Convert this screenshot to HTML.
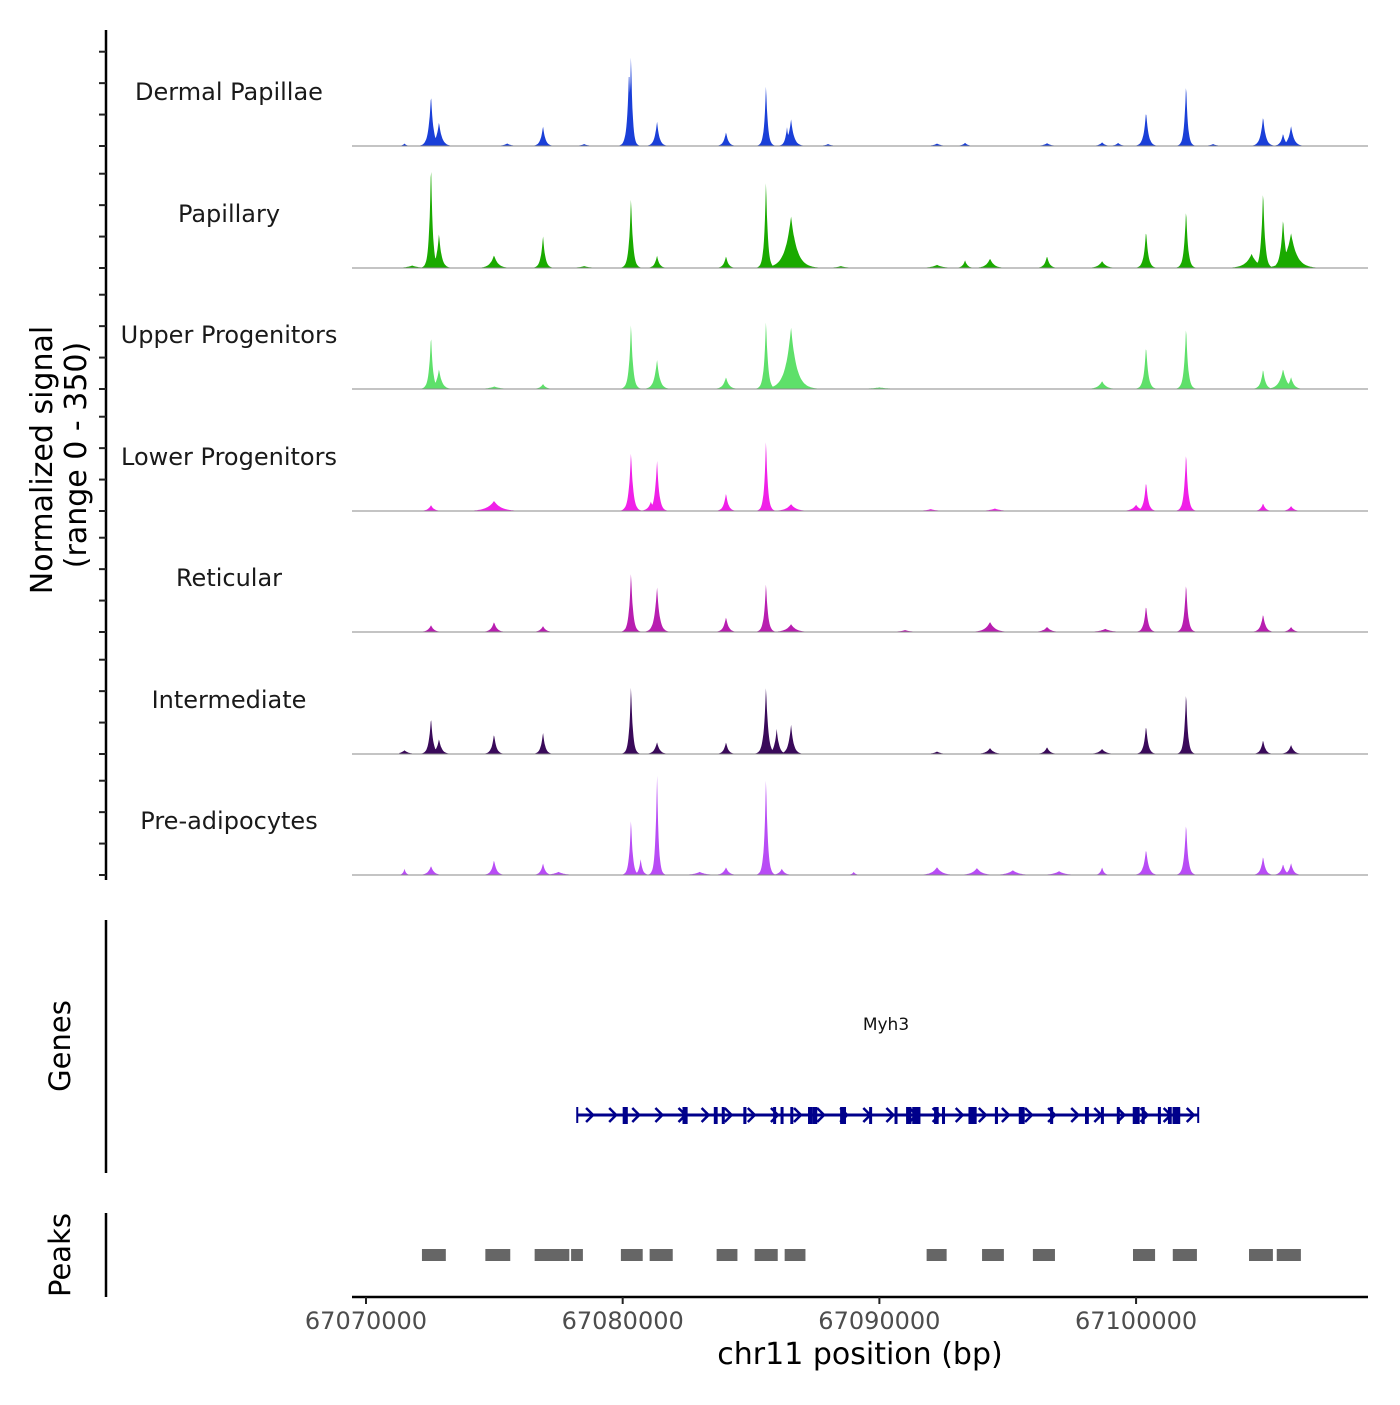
<!DOCTYPE html>
<html><head><meta charset="utf-8"><style>
body{margin:0;background:#fff}
svg text{font-family:"DejaVu Sans","Liberation Sans",sans-serif}
</style></head><body>
<svg id="c" width="1400" height="1400" xmlns="http://www.w3.org/2000/svg"></svg>
<script>
// ---- data ----
const trackNames=["Dermal Papillae","Papillary","Upper Progenitors","Lower Progenitors","Reticular","Intermediate","Pre-adipocytes"];
const trackColors=["#1a3fd8","#1aaa00","#5ee06a","#f020e8","#b81eb0","#3a0a5a","#b84cf5"];
// peaks: [position bp, signal, width bp]
const dpPeaks=[[67072532,165,120],[67072844,76,150],[67076896,64,120],[67080250,250,100],[67080324,300,80],[67081337,80,120],[67084025,45,120],[67085584,200,90],[67086400,60,100],[67086558,86,150],[67100389,111,120],[67101947,204,90],[67104947,95,130],[67105727,40,120],[67106038,64,150],[67071500,8,100],[67075500,8,200],[67078500,6,200],[67088000,6,200],[67092246,8,200],[67093337,10,150],[67096531,9,200],[67098675,12,150],[67099300,10,150],[67103000,6,200]];
const papPeaks=[[67072532,343,90],[67072844,111,130],[67074987,41,200],[67076896,105,110],[67080324,229,100],[67081337,40,120],[67084025,38,120],[67085584,286,90],[67086558,165,300],[67093337,25,120],[67094311,30,200],[67096531,38,130],[67098675,22,200],[67100389,121,110],[67101947,191,100],[67104500,45,300],[67104947,254,100],[67105727,159,130],[67106038,111,300],[67071800,8,300],[67078500,6,300],[67088500,6,300],[67092246,10,300]];
const upPeaks=[[67072532,175,100],[67072844,64,150],[67076896,16,150],[67080324,213,100],[67081337,95,140],[67084025,38,150],[67085584,223,100],[67086558,197,280],[67098675,25,200],[67100389,140,110],[67101947,204,100],[67104947,64,120],[67105727,64,200],[67106038,38,150],[67075000,8,300],[67090000,5,500]];
const lpPeaks=[[67072532,19,150],[67074987,32,350],[67080324,191,110],[67081100,30,150],[67081337,165,110],[67084025,57,120],[67085584,232,90],[67086558,22,250],[67100000,20,200],[67100389,95,110],[67101947,191,100],[67104947,25,120],[67106038,16,150],[67092000,6,300],[67094500,8,300]];
const retPeaks=[[67072532,22,150],[67074987,32,150],[67076896,19,150],[67080324,194,100],[67081337,146,130],[67084025,48,130],[67085584,159,100],[67086558,25,250],[67094311,32,250],[67096531,16,200],[67100389,86,110],[67101947,159,100],[67104947,57,130],[67106038,16,150],[67091000,6,300],[67098800,10,300]];
const intPeaks=[[67071500,12,200],[67072532,118,110],[67072844,48,140],[67074987,64,120],[67076896,70,110],[67080324,223,90],[67081337,38,140],[67084025,38,120],[67085584,219,110],[67086000,80,120],[67086558,95,130],[67094311,19,200],[67096531,22,150],[67098675,16,200],[67100389,92,110],[67101947,204,90],[67104947,45,120],[67106038,29,150],[67092246,8,200]];
const preaPeaks=[[67071500,20,80],[67072532,29,150],[67074987,48,130],[67076896,38,120],[67080324,181,90],[67080700,50,100],[67081337,331,80],[67084025,25,150],[67085584,318,90],[67086200,20,150],[67092246,25,250],[67093800,22,250],[67095200,15,300],[67097000,12,300],[67098675,25,100],[67100389,83,130],[67101947,169,100],[67104947,60,120],[67105727,35,130],[67106038,38,130],[67077500,10,300],[67083000,10,300],[67089000,10,100],[67108000,6,100]];
const allPeaks=[dpPeaks,papPeaks,upPeaks,lpPeaks,retPeaks,intPeaks,preaPeaks];
const xTicks=[67070000,67080000,67090000,67100000];
const yTicks=[0,100,200,300];
const geneName="Myh3";
const geneStart=67078230, geneEnd=67102420;
// exons [start,end] bp
const exons=[[67080000,67080200],[67082330,67082530],[67083550,67083700],[67083860,67083970],[67084700,67084820],[67085860,67085950],[67086150,67086260],[67086530,67086610],[67087220,67087380],[67087380,67087580],[67088470,67088700],[67089600,67089680],[67090590,67090670],[67091040,67091250],[67091280,67091600],[67092130,67092310],[67092440,67092520],[67093470,67093790],[67094500,67094620],[67095430,67095660],[67096650,67096770],[67098010,67098160],[67098630,67098710],[67099250,67099330],[67099870,67100140],[67100220,67100300],[67100850,67100930],[67101240,67101390],[67101420,67101720]];
const peakRegions=[[67072180,67073110],[67074650,67075620],[67076570,67077920],[67077990,67078450],[67079930,67080780],[67081050,67081950],[67083660,67084470],[67085140,67086040],[67086310,67087120],[67091840,67092620],[67094000,67094850],[67095980,67096840],[67099880,67100740],[67101430,67102370],[67104400,67105330],[67105480,67106420]];
// ---- scales ----
const X0=352,X1=1368,BP0=67069455,BP1=67109035;
const xs=bp=>X0+(bp-BP0)/(BP1-BP0)*(X1-X0);
const baselines=[146,268,389,511,632,754,875];
const ys=(v,i)=>baselines[i]-v/350*110;
const svg=document.getElementById('c');
const NS='http://www.w3.org/2000/svg';
function el(t,a,txt){const e=document.createElementNS(NS,t);for(const k in a)e.setAttribute(k,a[k]);if(txt!==undefined)e.textContent=txt;svg.appendChild(e);return e;}
// y axis
let ax=el('line',{x1:106,y1:30,x2:106,y2:880,stroke:'#000','stroke-width':2.5});


baselines.forEach((b,i)=>{yTicks.forEach(t=>{const y=ys(t,i);const tk=el('line',{x1:99,y1:y,x2:106,y2:y,stroke:'#222','stroke-width':2});

});});
let yt=el('text',{x:0,y:0,'font-size':30,'text-anchor':'middle',transform:'translate(52,460) rotate(-90)'},'Normalized signal');


let yt2=el('text',{x:0,y:0,'font-size':30,'text-anchor':'middle',transform:'translate(86,455) rotate(-90)'},'(range 0 - 350)');


// tracks
allPeaks.forEach((pk,i)=>{
  const b=baselines[i];
  const pts=[];
  const s=67071300,e=67107600;
  for(let bp=s;bp<=e;bp+=20){
    let v=0;pk.forEach(p=>{const d=Math.abs(bp-p[0])/p[2];v=Math.max(v,p[1]*Math.exp(-d*1.3));});
    pts.push(xs(bp).toFixed(1)+','+ys(v,i).toFixed(1));
  }
  const poly=el('polygon',{points:xs(s)+','+b+' '+pts.join(' ')+' '+xs(e)+','+b,fill:trackColors[i]});
  
  
  const bl=el('line',{x1:X0,y1:b,x2:X1,y2:b,stroke:'#888','stroke-width':1});
  
  
  const lb=el('text',{x:229,y:b-46,'font-size':24,'text-anchor':'middle',fill:'#1a1a1a'},trackNames[i]);
  
  
});
// genes
let ga=el('line',{x1:106,y1:920,x2:106,y2:1173,stroke:'#000','stroke-width':2.5});


let gt=el('text',{x:0,y:0,'font-size':29,'text-anchor':'middle',transform:'translate(70,1046) rotate(-90)'},'Genes');


let gl=el('line',{x1:xs(geneStart),y1:1115,x2:xs(geneEnd),y2:1115,stroke:'#00008b','stroke-width':3});


for(let bp=geneStart+500;bp<geneEnd;bp+=900){const x=xs(bp);
  const ch=el('polyline',{points:`${x-4},1108 ${x+3},1115 ${x-4},1122`,fill:'none',stroke:'#00008b','stroke-width':2.5});
  
  }
[geneStart,geneEnd].forEach(bp=>{const t=el('line',{x1:xs(bp),y1:1107,x2:xs(bp),y2:1123,stroke:'#00008b','stroke-width':2});

});
exons.forEach(ex=>{const r=el('rect',{x:xs(ex[0]),y:1107,width:Math.max(3,xs(ex[1])-xs(ex[0])),height:17,fill:'#00008b'});

});
let gn=el('text',{x:886,y:1030,'font-size':17,'text-anchor':'middle',fill:'#111'},geneName);


// peaks
let pa=el('line',{x1:106,y1:1213,x2:106,y2:1297,stroke:'#000','stroke-width':2.5});


let pt=el('text',{x:0,y:0,'font-size':29,'text-anchor':'middle',transform:'translate(70,1255) rotate(-90)'},'Peaks');


peakRegions.forEach(p=>{const r=el('rect',{x:xs(p[0]),y:1249,width:xs(p[1])-xs(p[0]),height:12,fill:'#666'});

});
// x axis
let xa=el('line',{x1:X0,y1:1297,x2:X1,y2:1297,stroke:'#000','stroke-width':2.5});


xTicks.forEach(t=>{const x=xs(t);
  const tk=el('line',{x1:x,y1:1297,x2:x,y2:1304,stroke:'#222','stroke-width':2});
  
  
  const lb=el('text',{x:x,y:1329,'font-size':24,'text-anchor':'middle',fill:'#4d4d4d'},String(t));
  
  });
let xt=el('text',{x:860,y:1364,'font-size':30,'text-anchor':'middle',fill:'#000'},'chr11 position (bp)');


</script>
</body></html>
